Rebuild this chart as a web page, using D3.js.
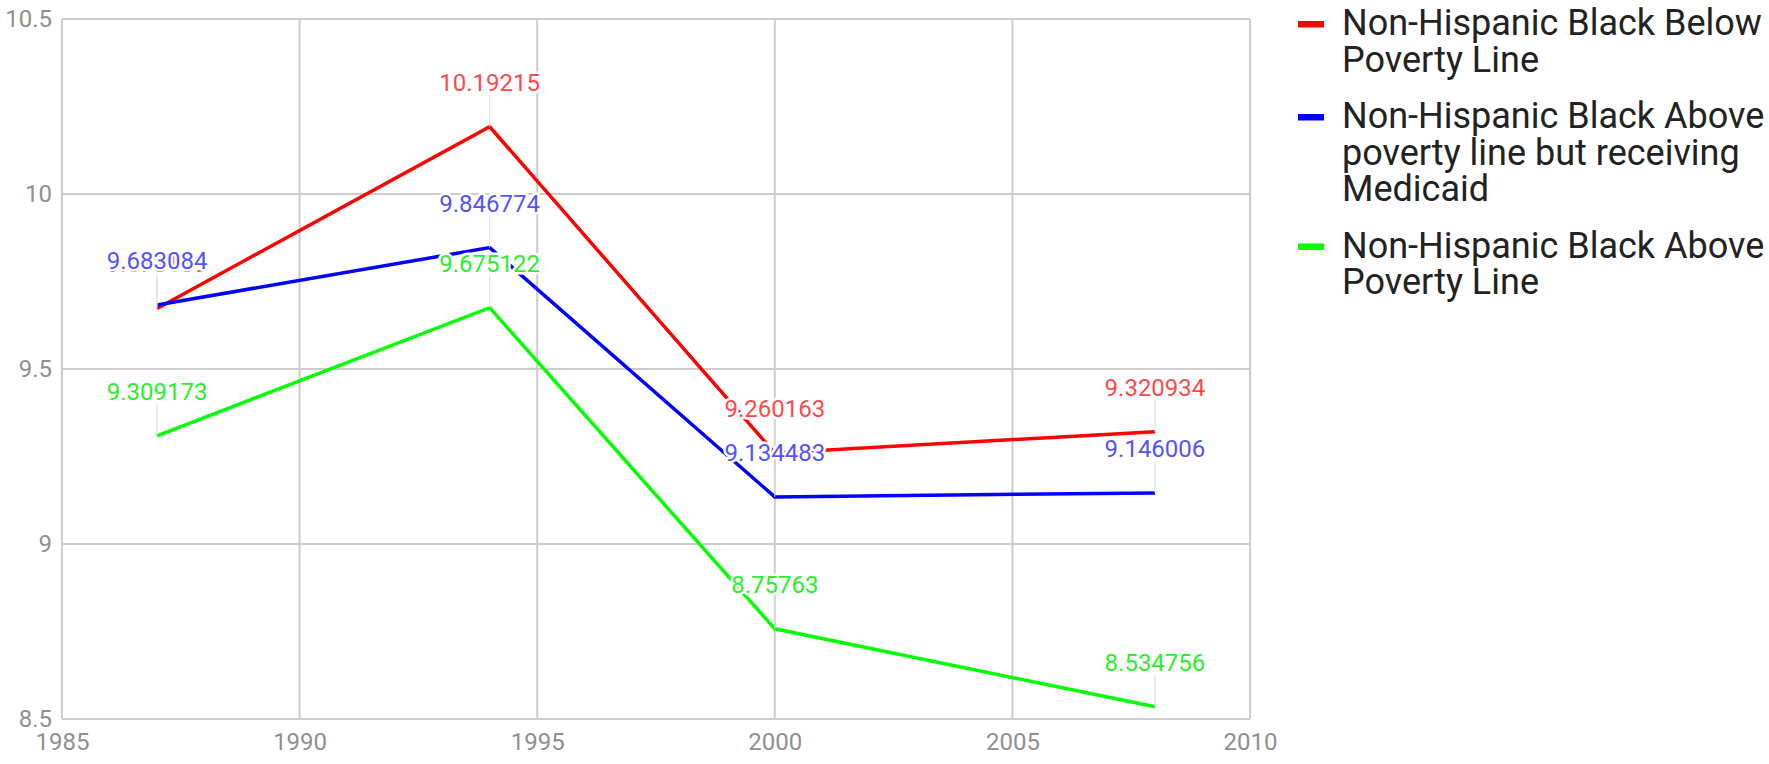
<!DOCTYPE html>
<html>
<head>
<meta charset="utf-8">
<script src="https://cdn.jsdelivr.net/npm/d3@7/dist/d3.min.js"></script>
<style>
    html, body { margin: 0; padding: 0; background: #fff; }
    svg { display: block; font-family: Roboto, "Noto Sans", sans-serif; }
</style>
</head>
<body>
<div id="chart"></div>
<script>
/*
 * Chart data.
 */
var years = [1987, 1994, 2000, 2008];
var belowPoverty = [9.673109, 10.19215, 9.260163, 9.320934];
var aboveMedicaid = [9.683084, 9.846774, 9.134483, 9.146006];
var abovePoverty = [9.309173, 9.675122, 8.75763, 8.534756];
var xTicks = [1985, 1990, 1995, 2000, 2005, 2010];
var yTicks = [8.5, 9, 9.5, 10, 10.5];
var seriesNames = [
    ['Non-Hispanic Black Below', 'Poverty Line'],
    ['Non-Hispanic Black Above', 'poverty line but receiving', 'Medicaid'],
    ['Non-Hispanic Black Above', 'Poverty Line']
];
var seriesColors = ['#ff0000', '#0000ff', '#00ff00'];
var labelColors = ['#ff4a4a', '#5454ff', '#2af02a'];

var series = [belowPoverty, aboveMedicaid, abovePoverty].map(function(values, i) {
    return {
        name: seriesNames[i],
        color: seriesColors[i],
        labelColor: labelColors[i],
        points: values.map(function(v, j) { return {x: years[j], y: v}; })
    };
});

var width = 1769, height = 764;
var plot = {left: 62, right: 1250, top: 19, bottom: 719};

var svg = d3.select('#chart').append('svg')
    .attr('width', width)
    .attr('height', height);

var x = d3.scaleLinear().domain([1985, 2010]).range([plot.left, plot.right]);
var y = d3.scaleLinear().domain([8.5, 10.5]).range([plot.bottom, plot.top]);

/*
 * Grid lines.
 */
var grid = svg.append('g').attr('class', 'grid');
grid.selectAll('line.v').data(xTicks).enter().append('line')
    .attr('x1', d => x(d)).attr('x2', d => x(d))
    .attr('y1', plot.top).attr('y2', plot.bottom)
    .attr('stroke', '#cccccc').attr('stroke-width', 2);
grid.selectAll('line.h').data(yTicks).enter().append('line')
    .attr('x1', plot.left).attr('x2', plot.right)
    .attr('y1', d => y(d)).attr('y2', d => y(d))
    .attr('stroke', '#cccccc').attr('stroke-width', 2);

/*
 * Axes labels.
 */
var yAxis = svg.append('g')
    .attr('transform', 'translate(' + (plot.left - 10) + ',0)')
    .call(d3.axisLeft(y).tickValues(yTicks).tickSize(0).tickPadding(0).tickFormat(d3.format('')));
var xAxis = svg.append('g')
    .attr('transform', 'translate(0,' + (plot.bottom + 14) + ')')
    .call(d3.axisBottom(x).tickValues(xTicks).tickSize(0).tickPadding(0).tickFormat(d3.format('d')));
[yAxis, xAxis].forEach(function(axis) {
    axis.select('.domain').remove();
    axis.selectAll('text')
        .attr('fill', '#8f8f8f')
        .style('font-family', 'Roboto, sans-serif')
        .style('font-size', '24px');
});
xAxis.selectAll('text').attr('dy', '0.71em');

/*
 * Lines.
 */
var line = d3.line().x(d => x(d.x)).y(d => y(d.y));
svg.append('g').selectAll('path').data(series).enter().append('path')
    .attr('d', d => line(d.points))
    .attr('fill', 'none')
    .attr('stroke', d => d.color)
    .attr('stroke-width', 3.5)
    .attr('stroke-linejoin', 'miter');

/*
 * Annotation stems and labels.
 */
var labelOffset = 36;
var annotations = svg.append('g');
series.forEach(function(s) {
    s.points.forEach(function(p) {
        annotations.append('line')
            .attr('x1', x(p.x)).attr('x2', x(p.x))
            .attr('y1', y(p.y)).attr('y2', y(p.y) - labelOffset + 4)
            .attr('stroke', '#dddddd').attr('stroke-width', 1);
    });
});
series.forEach(function(s) {
    s.points.forEach(function(p) {
        annotations.append('text')
            .attr('x', x(p.x))
            .attr('y', y(p.y) - labelOffset)
            .attr('text-anchor', 'middle')
            .attr('fill', s.labelColor)
            .attr('stroke', '#ffffff')
            .attr('stroke-width', 5)
            .attr('stroke-linejoin', 'round')
            .attr('paint-order', 'stroke')
            .style('font-size', '24px')
            .text(String(p.y));
    });
});

/*
 * Legend.
 */
var legend = svg.append('g').attr('transform', 'translate(1298,0)');
var lineHeight = 36.5, itemGap = 56.5;
var baseline = 35;
series.forEach(function(s) {
    legend.append('rect')
        .attr('x', 0).attr('y', baseline - 14)
        .attr('width', 26).attr('height', 6.5)
        .attr('fill', s.color);
    s.name.forEach(function(text, k) {
        legend.append('text')
            .attr('x', 44)
            .attr('y', baseline + k * lineHeight)
            .attr('fill', '#222222')
            .style('font-size', '36px')
            .text(text);
    });
    baseline += (s.name.length - 1) * lineHeight + itemGap;
});
</script>
</body>
</html>
